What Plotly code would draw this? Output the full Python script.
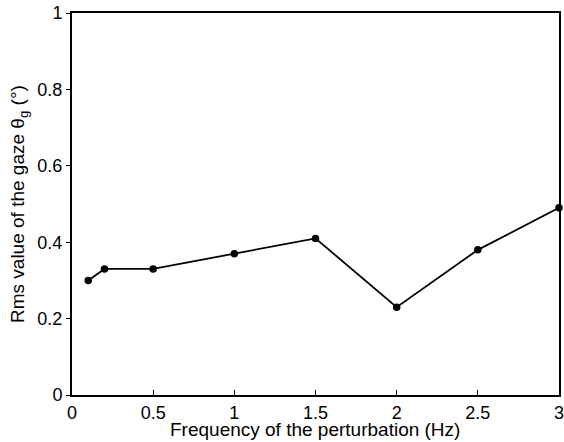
import plotly.graph_objects as go

freq = [0.1, 0.2, 0.5, 1.0, 1.5, 2.0, 2.5, 3.0]
rms = [0.30, 0.33, 0.33, 0.37, 0.41, 0.23, 0.38, 0.49]
x_ticks = [0, 0.5, 1, 1.5, 2, 2.5, 3]
x_ticklabels = ["0", "0.5", "1", "1.5", "2", "2.5", "3"]
y_ticks = [0, 0.2, 0.4, 0.6, 0.8, 1]
y_ticklabels = ["0", "0.2", "0.4", "0.6", "0.8", "1"]
x_title = "Frequency of the perturbation (Hz)"
y_title = "Rms value of the gaze θ<sub>g</sub> (°)"

fig = go.Figure()
fig.add_trace(go.Scatter(
    x=freq, y=rms, mode="lines+markers",
    line=dict(color="black", width=1.8),
    marker=dict(color="black", size=7.5),
    showlegend=False,
    cliponaxis=False,
))

fam = "Liberation Sans, Arial, sans-serif"
tickfont = dict(family=fam, size=18, color="black")
fig.update_layout(
    width=564, height=442,
    margin=dict(l=72, r=5, t=13, b=47, autoexpand=False),
    paper_bgcolor="white", plot_bgcolor="white",
    font=tickfont,
    xaxis=dict(
        range=[0, 3], tickvals=x_ticks, ticktext=x_ticklabels,
        showgrid=False, zeroline=False, showline=True, mirror=True,
        linecolor="black", linewidth=2, ticks="inside", ticklen=5,
        tickcolor="black", tickwidth=1, automargin=False,
        tickfont=tickfont, ticklabeloverflow="allow",
    ),
    yaxis=dict(
        range=[0, 1], tickvals=y_ticks, ticktext=y_ticklabels,
        showgrid=False, zeroline=False, showline=True, mirror=True,
        linecolor="black", linewidth=2, ticks="outside", ticklen=4,
        tickcolor="black", tickwidth=1, automargin=False,
        tickfont=tickfont, ticklabeloverflow="allow",
    ),
    annotations=[
        dict(text=x_title, xref="paper", yref="paper", x=(315 - 72) / 487, y=-(430 - 395) / 382,
             xanchor="center", yanchor="middle", showarrow=False,
             font=dict(family=fam, size=19, color="black")),
        dict(text=y_title, xref="paper", yref="paper", x=(19 - 72) / 487, y=(395 - 204) / 382,
             xanchor="center", yanchor="middle", showarrow=False, textangle=-90,
             font=dict(family=fam, size=19, color="black")),
    ],
)

fig.write_html("out.html", config={"displayModeBar": False},
               post_script="document.body.style.margin='0';document.body.style.overflow='hidden';")
